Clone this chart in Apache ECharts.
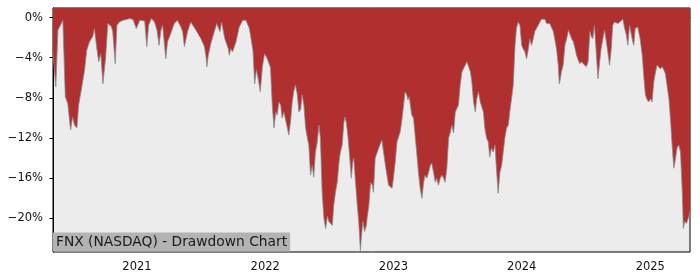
<!DOCTYPE html>
<html>
<head>
<meta charset="utf-8">
<script src="https://cdn.jsdelivr.net/npm/echarts@6/dist/echarts.min.js"></script>
<style>
html,body{margin:0;padding:0;background:#fff;}
#chart{width:700px;height:280px;}
</style>
</head>
<body>
<div id="chart"></div>
<script>
// ---- Data ----
const titleText = 'FNX (NASDAQ) - Drawdown Chart';
const yearTicks = [2021, 2022, 2023, 2024, 2025];
const yTicks = [0, -4, -8, -12, -16, -20];

const dates2020 = ['2020-05-07','2020-05-15','2020-05-21','2020-06-04','2020-06-09','2020-06-11','2020-06-18','2020-06-26','2020-07-02','2020-07-07','2020-07-14','2020-07-19','2020-07-27','2020-08-05','2020-08-11','2020-08-19','2020-08-28','2020-09-02','2020-09-07','2020-09-14','2020-09-20','2020-09-26','2020-10-04','2020-10-10','2020-10-20','2020-10-24','2020-10-31','2020-11-05','2020-11-12','2020-11-22','2020-12-02','2020-12-11','2020-12-21','2020-12-30'];
const dd2020 = [-3.58,-6.9,-1.26,-0.27,-0.27,-7.9,-8.56,-11.2,-9.9,-10.7,-11.0,-8.7,-7.1,-5.2,-3.25,-2.4,-1.9,-1.1,-2.6,-4.4,-3.6,-6.6,-3.9,-0.6,-0.9,-1.4,-4.6,-0.77,-0.44,-0.27,-0.2,-0.1,-0.2,-1.1];

const dates2021 = ['2021-01-09','2021-01-23','2021-01-29','2021-02-03','2021-02-11','2021-02-20','2021-02-27','2021-03-05','2021-03-10','2021-03-15','2021-03-24','2021-03-29','2021-04-07','2021-04-17','2021-04-26','2021-05-06','2021-05-11','2021-05-16','2021-05-25','2021-06-03','2021-06-08','2021-06-18','2021-06-22','2021-07-02','2021-07-12','2021-07-16','2021-07-19','2021-07-23','2021-07-30','2021-08-06','2021-08-16','2021-08-20','2021-08-25','2021-08-30','2021-09-08','2021-09-18','2021-09-21','2021-09-25','2021-09-30','2021-10-10','2021-10-19','2021-10-29','2021-11-07','2021-11-17','2021-11-27','2021-12-02','2021-12-07','2021-12-11','2021-12-18','2021-12-24','2021-12-30'];
const dd2021 = [-0.27,-0.34,-2.9,-0.77,-0.1,-0.44,-1.26,-2.76,-1.26,-0.77,-4.1,-2.4,-1.6,-0.6,-0.27,-0.94,-1.4,-2.9,-1.4,-0.44,-0.27,-1.26,-1.1,-2.1,-2.9,-3.75,-4.9,-3.75,-2.6,-1.76,-0.6,-0.77,-1.4,-0.44,-2.1,-3.1,-3.75,-3.1,-3.4,-2.4,-0.94,-0.27,-0.27,-1.1,-3.25,-6.6,-5.2,-5.9,-7.4,-4.9,-3.6];

const dates2022 = ['2022-01-07','2022-01-16','2022-01-21','2022-01-26','2022-01-31','2022-02-04','2022-02-09','2022-02-14','2022-02-18','2022-02-23','2022-02-28','2022-03-05','2022-03-09','2022-03-14','2022-03-19','2022-03-23','2022-03-28','2022-04-02','2022-04-07','2022-04-12','2022-04-16','2022-04-21','2022-04-26','2022-05-01','2022-05-05','2022-05-10','2022-05-15','2022-05-19','2022-05-24','2022-05-29','2022-06-03','2022-06-07','2022-06-12','2022-06-17','2022-06-22','2022-06-27','2022-07-01','2022-07-06','2022-07-11','2022-07-15','2022-07-20','2022-07-25','2022-07-30','2022-08-03','2022-08-08','2022-08-13','2022-08-16','2022-08-20','2022-08-24','2022-08-29','2022-09-03','2022-09-07','2022-09-10','2022-09-15','2022-09-20','2022-09-24','2022-09-29','2022-10-02','2022-10-06','2022-10-11','2022-10-16','2022-10-18','2022-10-23','2022-10-28','2022-11-02','2022-11-05','2022-11-10','2022-11-20','2022-11-29','2022-12-09','2022-12-18','2022-12-28'];
const dd2022 = [-4.1,-5.0,-8.7,-11.0,-9.4,-9.7,-8.4,-8.7,-10.0,-9.4,-9.4,-11.0,-11.7,-10.4,-8.4,-7.4,-6.7,-7.6,-9.4,-9.1,-7.7,-8.7,-11.0,-12.0,-12.7,-15.7,-14.7,-15.9,-13.4,-12.4,-10.7,-12.0,-17.4,-20.0,-21.0,-19.8,-20.3,-20.2,-20.7,-18.7,-17.4,-16.4,-14.4,-13.4,-12.7,-10.4,-9.9,-10.5,-11.7,-13.7,-16.0,-14.4,-14.0,-16.4,-18.7,-20.3,-23.2,-21.7,-20.3,-21.3,-20.7,-20.0,-18.7,-16.4,-16.7,-17.4,-14.0,-13.0,-12.2,-14.7,-16.7,-17.0];

const dates2023 = ['2023-01-01','2023-01-06','2023-01-11','2023-01-20','2023-01-25','2023-01-30','2023-02-03','2023-02-08','2023-02-11','2023-02-15','2023-02-18','2023-02-22','2023-02-27','2023-03-04','2023-03-08','2023-03-13','2023-03-18','2023-03-23','2023-03-28','2023-04-01','2023-04-06','2023-04-11','2023-04-16','2023-04-20','2023-04-25','2023-04-30','2023-05-04','2023-05-09','2023-05-14','2023-05-19','2023-05-24','2023-05-28','2023-06-02','2023-06-07','2023-06-12','2023-06-16','2023-06-21','2023-06-26','2023-07-05','2023-07-10','2023-07-15','2023-07-24','2023-07-29','2023-08-03','2023-08-08','2023-08-12','2023-08-17','2023-08-22','2023-08-26','2023-08-31','2023-09-05','2023-09-14','2023-09-18','2023-09-23','2023-09-28','2023-10-02','2023-10-07','2023-10-12','2023-10-17','2023-10-21','2023-10-26','2023-10-31','2023-11-05','2023-11-10','2023-11-14','2023-11-19','2023-11-24','2023-11-28','2023-12-03','2023-12-08','2023-12-13','2023-12-17','2023-12-22','2023-12-27'];
const dd2023 = [-16.0,-14.4,-12.4,-11.4,-10.2,-8.7,-7.4,-7.7,-8.2,-7.9,-8.7,-9.7,-10.0,-9.9,-13.4,-15.4,-17.0,-18.0,-16.4,-15.7,-16.0,-15.4,-14.7,-14.5,-15.4,-16.4,-16.0,-16.7,-16.0,-15.7,-16.0,-16.4,-15.0,-12.0,-11.4,-10.7,-11.5,-9.4,-8.7,-6.7,-5.4,-4.75,-4.4,-4.9,-5.4,-6.4,-8.4,-9.4,-8.1,-7.4,-8.4,-9.4,-11.0,-12.0,-12.4,-13.9,-13.0,-13.4,-12.7,-15.0,-17.5,-15.4,-14.7,-14.7,-12.0,-11.0,-10.7,-9.4,-8.1,-6.7,-2.76,-1.1,-0.44,-0.77];

const dates2024 = ['2024-01-01','2024-01-05','2024-01-10','2024-01-15','2024-01-20','2024-01-24','2024-01-29','2024-02-03','2024-02-07','2024-02-17','2024-02-26','2024-03-07','2024-03-12','2024-03-17','2024-03-21','2024-03-26','2024-03-31','2024-04-04','2024-04-09','2024-04-14','2024-04-17','2024-04-20','2024-04-23','2024-04-28','2024-05-03','2024-05-08','2024-05-13','2024-05-17','2024-05-22','2024-05-27','2024-06-01','2024-06-05','2024-06-10','2024-06-14','2024-06-19','2024-06-24','2024-06-28','2024-07-03','2024-07-08','2024-07-13','2024-07-17','2024-07-21','2024-07-26','2024-07-31','2024-08-05','2024-08-10','2024-08-14','2024-08-19','2024-08-24','2024-08-29','2024-09-02','2024-09-07','2024-09-12','2024-09-16','2024-09-21','2024-10-01','2024-10-06','2024-10-15','2024-10-20','2024-10-25','2024-10-29','2024-11-03','2024-11-08','2024-11-12','2024-11-15','2024-11-19','2024-11-26','2024-12-03','2024-12-09','2024-12-14','2024-12-18','2024-12-22','2024-12-27'];
const dd2024 = [-2.76,-3.1,-3.4,-4.1,-3.1,-2.1,-2.76,-2.1,-1.4,-0.77,-0.17,-0.17,-0.6,-0.44,-0.6,-0.44,-1.4,-2.1,-3.1,-4.75,-6.6,-6.1,-5.4,-4.75,-2.76,-2.1,-1.26,-1.1,-2.1,-2.4,-3.1,-3.75,-4.25,-4.6,-4.4,-4.6,-4.6,-4.9,-4.4,-1.4,-1.9,-2.1,-0.77,-3.4,-6.1,-4.4,-3.1,-2.1,-1.26,-1.1,-3.4,-4.75,-3.1,-0.77,-0.44,-0.6,-0.77,-0.17,-1.1,-1.76,-2.76,-0.77,-0.6,-2.4,-2.76,-1.1,-0.94,-2.1,-3.75,-6.1,-7.7,-8.1,-8.4];

const dates2025 = ['2025-01-02','2025-01-06','2025-01-11','2025-01-16','2025-01-20','2025-01-25','2025-01-30','2025-02-04','2025-02-09','2025-02-13','2025-02-18','2025-02-23','2025-02-28','2025-03-04','2025-03-09','2025-03-14','2025-03-18','2025-03-23','2025-03-28','2025-04-02','2025-04-05','2025-04-09','2025-04-14','2025-04-19','2025-04-24'];
const dd2025 = [-8.1,-8.4,-6.4,-5.4,-4.75,-4.9,-5.1,-4.9,-5.25,-5.6,-5.75,-8.1,-10.4,-12.7,-15.0,-14.0,-13.0,-12.7,-13.4,-17.4,-21.0,-20.3,-20.5,-20.0,-19.3];

// ---- Build ----
const ts = s => { const p = s.split('-'); return Date.UTC(+p[0], +p[1]-1, +p[2]); };
const allDates = [].concat(dates2020, dates2021, dates2022, dates2023, dates2024, dates2025);
const allDD = [].concat(dd2020, dd2021, dd2022, dd2023, dd2024, dd2025);
const seriesData = allDates.map((d, i) => [ts(d), allDD[i]]);
const xMin = ts(allDates[0]);
const xMax = ts(allDates[allDates.length - 1]);
const yearTs = yearTicks.map(y => Date.UTC(y, 0, 1));

const FONT = 'DejaVu Sans';
const chart = echarts.init(document.getElementById('chart'), null, {renderer: 'canvas'});
chart.setOption({
  animation: false,
  backgroundColor: '#ffffff',
  title: {
    text: titleText,
    left: 53, top: 232.5,
    padding: [2, 3, 1, 3],
    backgroundColor: '#b3b3b3',
    textStyle: {fontFamily: FONT, fontSize: 13.8, fontWeight: 'normal', color: '#1a1a1a', lineHeight: 16},
    z: 10
  },
  grid: {
    left: 53, right: 10, top: 8, bottom: 28,
    show: true, backgroundColor: '#ececec', borderColor: '#000', borderWidth: 1
  },
  xAxis: {
    type: 'value', min: xMin, max: xMax,
    axisLine: {show: true, lineStyle: {color: '#000', width: 1}},
    axisTick: {show: true, inside: false, length: 3.5, lineStyle: {color: '#000'}, customValues: yearTs},
    axisLabel: {
      customValues: yearTs, margin: 9.5, color: '#111', fontFamily: FONT, fontSize: 11.5,
      formatter: v => String(new Date(v).getUTCFullYear())
    },
    splitLine: {show: false}
  },
  yAxis: {
    type: 'value', min: -23.35, max: 0.95,
    axisLine: {show: true, lineStyle: {color: '#000', width: 1}},
    axisTick: {show: true, inside: false, length: 3.5, lineStyle: {color: '#000'}, customValues: yTicks},
    axisLabel: {
      customValues: yTicks, margin: 10, color: '#111', fontFamily: FONT, fontSize: 11.5,
      formatter: v => (v < 0 ? '\u2212' : '') + Math.abs(Math.round(v)) + '%'
    },
    splitLine: {show: false}
  },
  series: [{
    type: 'line',
    data: seriesData,
    showSymbol: false,
    symbol: 'none',
    lineStyle: {color: '#8a8a8a', width: 0.8},
    areaStyle: {color: '#b03030', opacity: 1, origin: 'end'},
    z: 2
  }]
});
</script>
</body>
</html>
